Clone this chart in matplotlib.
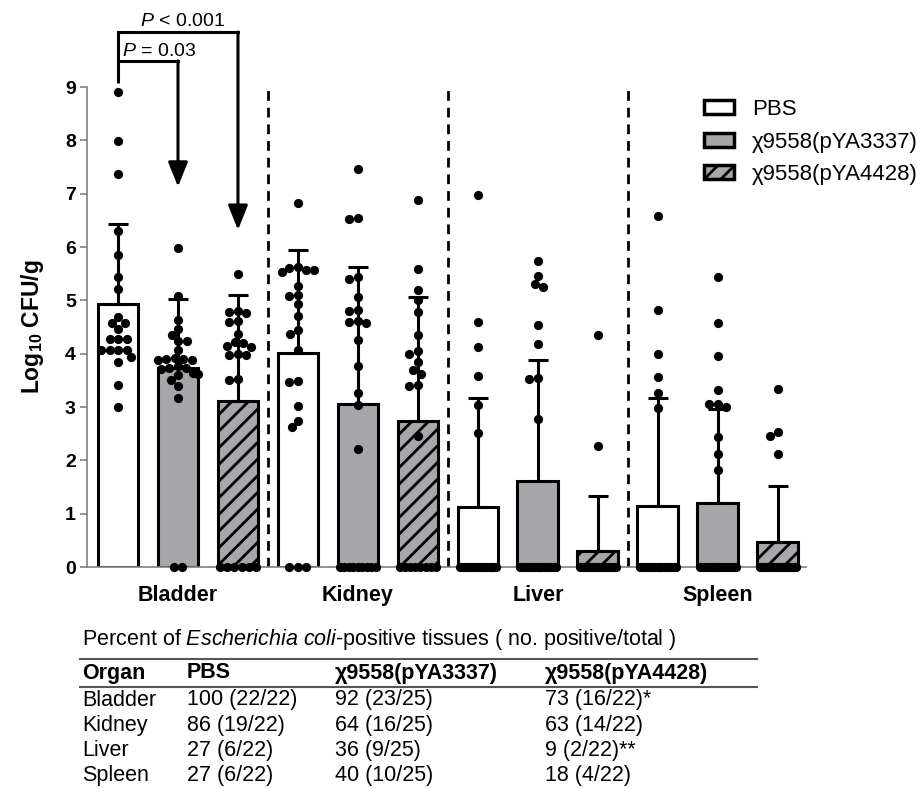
import numpy as np
import matplotlib.pyplot as plt
from matplotlib.patches import Patch

plt.rcParams['font.family'] = ['Liberation Sans', 'DejaVu Sans']
plt.rcParams['mathtext.fontset'] = 'custom'
plt.rcParams['mathtext.rm'] = 'Liberation Sans'
plt.rcParams['mathtext.it'] = 'Liberation Sans:italic'
plt.rcParams['mathtext.bf'] = 'Liberation Sans:bold'
plt.rcParams['hatch.linewidth'] = 2.0

organs = ['Bladder', 'Kidney', 'Liver', 'Spleen']
groups = ['PBS', 'χ9558(pYA3337)', 'χ9558(pYA4428)']

# mean log10 CFU/g and SD (upper bar only), rows = organs
means = [[4.93, 3.73, 3.11],
         [4.01, 3.06, 2.74],
         [1.13, 1.61, 0.30],
         [1.14, 1.20, 0.47]]
sds = [[1.50, 1.30, 1.99],
       [1.94, 2.57, 2.33],
       [2.04, 2.27, 1.03],
       [2.03, 1.76, 1.05]]

# positive animals (individual values), rows = organs
bladder_pts = [
    [8.91, 7.99, 7.37, 6.30, 5.85, 5.44, 5.22, 4.68, 4.57, 4.57, 4.46,
     4.28, 4.28, 4.28, 4.07, 4.07, 4.07, 4.07, 3.93, 3.85, 3.41, 3.00],
    [5.99, 5.08, 4.63, 4.47, 4.35, 4.24, 4.24, 4.07, 3.92, 3.90, 3.90, 3.88,
     3.88, 3.76, 3.74, 3.74, 3.72, 3.63, 3.62, 3.60, 3.50, 3.39, 3.16],
    [5.50, 4.80, 4.78, 4.76, 4.62, 4.60, 4.37, 4.22, 4.20, 4.15, 4.13,
     3.99, 3.98, 3.97, 3.52, 3.51],
]
kidney_pts = [
    [6.82, 5.63, 5.61, 5.57, 5.57, 5.53, 5.26, 5.10, 5.08, 4.93, 4.71,
     4.45, 4.37, 4.07, 3.48, 3.46, 3.01, 2.74, 2.62],
    [7.46, 6.54, 6.52, 5.43, 5.40, 5.07, 4.82, 4.80, 4.62, 4.60, 4.58,
     4.26, 3.76, 3.26, 3.04, 2.21],
    [6.88, 5.59, 5.20, 5.00, 4.79, 4.35, 4.05, 4.00, 3.84, 3.70, 3.62,
     3.42, 3.40, 2.46],
]
liver_pts = [
    [6.98, 4.59, 4.13, 3.59, 3.03, 2.52],
    [5.73, 5.45, 5.30, 5.25, 4.53, 4.18, 3.55, 3.53, 2.78],
    [4.35, 2.27],
]
spleen_pts = [
    [6.59, 4.82, 4.00, 3.57, 3.27, 2.98],
    [5.43, 4.57, 3.95, 3.32, 3.06, 3.06, 3.00, 2.44, 2.12, 1.82],
    [3.33, 2.54, 2.45, 2.12],
]
points = [bladder_pts, kidney_pts, liver_pts, spleen_pts]
# culture-negative animals, plotted at 0
n_zero = [[0, 2, 6], [3, 9, 8], [16, 16, 20], [16, 15, 18]]

faces = ['white', '#a7a7ab', '#a7a7ab']
hatches = [None, None, '//']

# table below the chart
table_title = r'Percent of $\it{Escherichia\ coli}$-positive tissues ( no. positive/total )'
table_header = ['Organ', 'PBS', 'χ9558(pYA3337)', 'χ9558(pYA4428)']
table_rows = [['Bladder', '100 (22/22)', '92 (23/25)', '73 (16/22)*'],
              ['Kidney', '86 (19/22)', '64 (16/25)', '63 (14/22)'],
              ['Liver', '27 (6/22)', '36 (9/25)', '9 (2/22)**'],
              ['Spleen', '27 (6/22)', '40 (10/25)', '18 (4/22)']]

XPX, YPX = 60.0, 53.3   # pixels per data unit (used for dot layout)
DOT = 8.5


def swarm(vals):
    """ simple beeswarm: horizontal offsets (data units) """
    placed = []
    offs = []
    for v in vals:
        y = v*YPX
        cands = sorted(np.arange(-20, 20.5, 0.5), key=abs)
        best = cands[-1]
        for dx in cands:
            if all((dx-px)**2 + (y-py)**2 >= DOT**2 for px, py in placed):
                best = dx
                break
        placed.append((best, y))
        offs.append(best/XPX)
    return np.array(offs)


fig = plt.figure(figsize=(9.17, 7.88), dpi=100)
ax = fig.add_axes([87/917, 1-567/788, (806-87)/917, (567-87)/788])

for g in range(len(organs)):
    for j in range(len(groups)):
        x = g*3 + j
        ax.bar(x, means[g][j], width=0.68, color=faces[j], edgecolor='k',
               linewidth=2.2, hatch=hatches[j], zorder=2)
        ax.errorbar(x, means[g][j], yerr=[[0], [sds[g][j]]], fmt='none',
                    ecolor='k', elinewidth=2.2, capsize=7, capthick=2.2,
                    zorder=3)
        vals = np.array(points[g][j])
        ax.scatter(x + swarm(vals), vals, s=44, color='k', zorder=4,
                   clip_on=False, linewidths=0)
        nz = n_zero[g][j]
        if nz:
            w = min((nz-1)*DOT/2, 18)/XPX
            ax.scatter(x + np.linspace(-w, w, nz), np.zeros(nz), s=44,
                       color='k', zorder=4, clip_on=False, linewidths=0)

for xd in [2.5, 5.5, 8.5]:
    ax.axvline(xd, ymin=0, ymax=1, color='k', lw=2, ls=(0, (3.5, 2.5)), zorder=1)

ax.set_xlim(-0.517, 11.47)
ax.set_ylim(0, 9)
ax.set_yticks(range(10))
ax.set_xticks([1, 4, 7, 10])
ax.set_xticklabels(organs, fontsize=15.5, fontweight='bold')
ax.tick_params(axis='x', length=0, pad=13)
ax.tick_params(axis='y', width=1.2, length=5, color='#808080',
               labelsize=14, pad=3)
for lab in ax.get_yticklabels():
    lab.set_fontweight('bold')
ax.set_ylabel(r'Log$_{\mathbf{10}}$ CFU/g', fontsize=16.5, fontweight='bold',
              labelpad=14)
ax.spines['top'].set_visible(False)
ax.spines['right'].set_visible(False)
for side in ['left', 'bottom']:
    ax.spines[side].set_color('#808080')
    ax.spines[side].set_linewidth(1.2)

# significance brackets with arrows
p_labels = ['$P$ = 0.03', '$P$ < 0.001']
p_targets = [1, 2]
p_levels = [9.49, 10.03]
p_tips = [7.13, 6.32]
ax.plot([0, 0], [9.08, p_levels[1]], color='k', lw=2.2, clip_on=False,
        solid_capstyle='butt')
for lab, xt, lev, tip in zip(p_labels, p_targets, p_levels, p_tips):
    ax.plot([0, xt], [lev, lev], color='k', lw=2.2, clip_on=False,
            solid_joinstyle='miter')
    ax.annotate('', xy=(xt, tip), xytext=(xt, lev),
                arrowprops=dict(arrowstyle='-|>,head_length=0.75,head_width=0.3',
                                lw=2.2, color='k', mutation_scale=20,
                                shrinkA=0, shrinkB=0),
                annotation_clip=False)
ax.text(0.07, 9.67, p_labels[0], fontsize=14, ha='left', va='center')
ax.text(1.08, 10.22, p_labels[1], fontsize=14, ha='center', va='center')

handles = [Patch(facecolor=faces[j], edgecolor='k', linewidth=2.5,
                 hatch=hatches[j]) for j in range(3)]
fig.legend(handles, groups, loc='upper left',
           bbox_to_anchor=(684/917, 1-79/788), frameon=False, fontsize=16,
           handlelength=1.35, handleheight=0.59, labelspacing=0.52,
           handletextpad=0.81, borderpad=0.4)

# table
def fx(px):
    return px/917


def fy(py):
    return 1 - py/788


fig.text(fx(82), fy(640), table_title, fontsize=15.5, va='center', ha='left')
for yl in [659, 687]:
    fig.add_artist(plt.Line2D([fx(80), fx(757)], [fy(yl), fy(yl)],
                              color='#555555', lw=1.5))
cols = [82, 187, 335, 545]
for c, h in zip(cols, table_header):
    fig.text(fx(c), fy(673), h, fontsize=15.5, fontweight='bold', va='center')
for r, row in enumerate(table_rows):
    for c, cell in zip(cols, row):
        fig.text(fx(c), fy(700 + r*25.3), cell, fontsize=15.5, va='center')

fig.savefig('out.png', dpi=100)
